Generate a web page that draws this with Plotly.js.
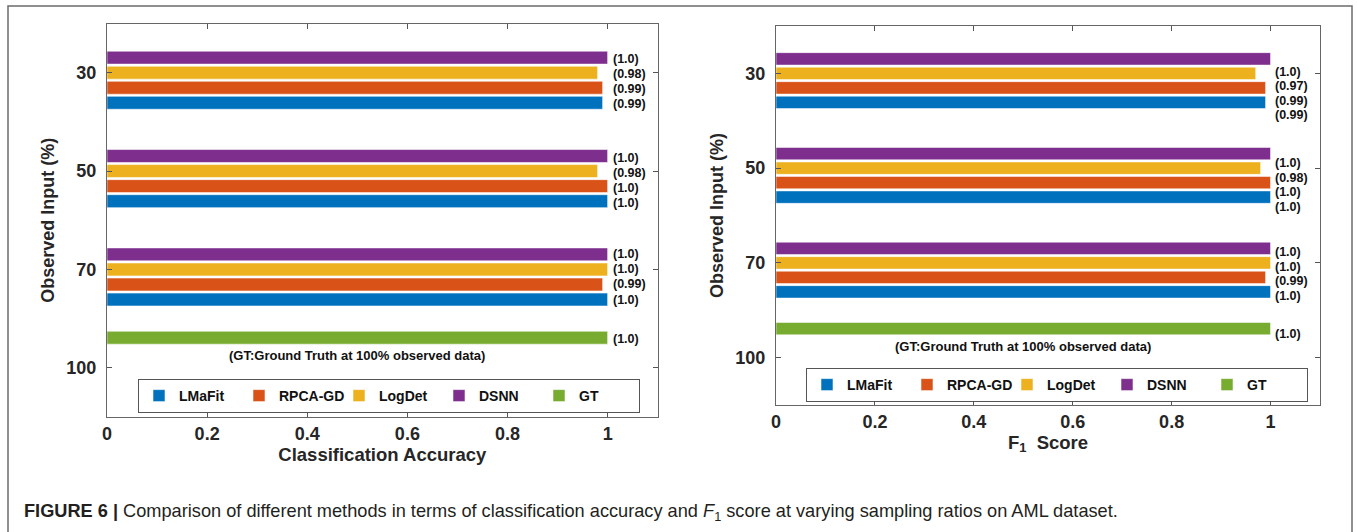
<!DOCTYPE html>
<html>
<head>
<meta charset="utf-8">
<script src="https://cdn.plot.ly/plotly-3.0.1.min.js"></script>
<style>
  html, body { margin: 0; padding: 0; background: #fff; }
  #chart { width: 1357px; height: 532px; }
</style>
</head>
<body>
<div id="chart"></div>
<script>
// ---------- data ----------
const categories = ['30', '50', '70', '100'];
const methods = ['LMaFit', 'RPCA-GD', 'LogDet', 'DSNN', 'GT'];

// Classification accuracy (left)
const accLMaFit = [0.99, 1.0, 1.0, 0];
const accRPCAGD = [0.99, 1.0, 0.99, 0];
const accLogDet = [0.98, 0.98, 1.0, 0];
const accDSNN   = [1.0, 1.0, 1.0, 0];
const accGT     = [0, 0, 0, 1.0];

// F1 score (right)
const f1LMaFit = [0.99, 1.0, 1.0, 0];
const f1RPCAGD = [0.99, 1.0, 0.99, 0];
const f1LogDet = [0.97, 0.98, 1.0, 0];
const f1DSNN   = [1.0, 1.0, 1.0, 0];
const f1GT     = [0, 0, 0, 1.0];

const xTicks = [0, 0.2, 0.4, 0.6, 0.8, 1];
const xTickText = ['0', '0.2', '0.4', '0.6', '0.8', '1'];

// ---------- styles ----------
const colors = {
  'LMaFit': '#0072BD', 'RPCA-GD': '#D95319', 'LogDet': '#EDB120',
  'DSNN': '#7E2F8E', 'GT': '#77AC30'
};
const FONT = 'Liberation Sans, Arial, Helvetica, sans-serif';
const INK = '#262626';
const BARGAP = 0.235;
// drawing order inside each group (top to bottom on reversed axis)
const drawOrder = ['GT', 'DSNN', 'LogDet', 'RPCA-GD', 'LMaFit'];

const leftSeries = { 'LMaFit': accLMaFit, 'RPCA-GD': accRPCAGD, 'LogDet': accLogDet, 'DSNN': accDSNN, 'GT': accGT };
const rightSeries = { 'LMaFit': f1LMaFit, 'RPCA-GD': f1RPCAGD, 'LogDet': f1LogDet, 'DSNN': f1DSNN, 'GT': f1GT };

const fmt = v => '(' + (v === 1 ? '1.0' : v.toFixed(2)) + ')';

function makeTraces(series, xa, ya, legendName) {
  return drawOrder.map(m => ({
    type: 'bar', orientation: 'h',
    name: m, x: series[m], y: categories,
    xaxis: xa, yaxis: ya,
    marker: { color: colors[m], line: { color: 'rgba(255,255,255,0.55)', width: 1 } },
    legend: legendName,
    legendrank: methods.indexOf(m) + 1,
    hoverinfo: 'x+name'
  }));
}

// value labels placed in a column just right of the full-score position
function makeLabels(series, xref, yref, nudges, xshift) {
  const all = [].concat(...methods.map(m => series[m]));
  const labelX = Math.max(...all);
  const n = drawOrder.length;
  const gw = 1 - BARGAP, slot = gw / n;
  const out = [];
  drawOrder.forEach((m, j) => {
    const off = -gw / 2 + slot * (j + 0.5);
    series[m].forEach((v, i) => {
      if (v > 0) {
        out.push({
          xref: xref, yref: yref, x: labelX, y: i + off,
          text: fmt(v), showarrow: false, xanchor: 'left', yanchor: 'middle',
          xshift: xshift, yshift: -nudges[i],
          font: { family: FONT, size: 12.5, color: '#111', weight: 700 }
        });
      }
    });
  });
  return out;
}

const data = [].concat(
  makeTraces(leftSeries, 'x', 'y', 'legend'),
  makeTraces(rightSeries, 'x2', 'y2', 'legend2')
);

const W = 1357, H = 532;
const px = v => v / W, py = v => 1 - v / H;

const xAxisBase = {
  range: [0, 1.1], tickvals: xTicks, ticktext: xTickText,
  ticks: 'inside', ticklen: 5, tickcolor: '#555', mirror: 'ticks',
  showline: true, linecolor: '#666', linewidth: 1, showgrid: false, zeroline: false,
  tickfont: { family: FONT, size: 18, color: INK, weight: 700 },
  fixedrange: true
};
const yAxisBase = {
  type: 'category', categoryorder: 'array', categoryarray: categories,
  range: [3.5, -0.5],
  ticks: 'inside', ticklen: 5, tickcolor: '#555', mirror: 'ticks',
  showline: true, linecolor: '#666', linewidth: 1, showgrid: false, zeroline: false,
  tickfont: { family: FONT, size: 18, color: INK, weight: 700 },
  ticklabelstandoff: 6,
  title: { text: 'Observed Input (%)', standoff: 7, font: { family: FONT, size: 18, color: INK, weight: 700 } },
  fixedrange: true
};

const gtNoteFont = { family: FONT, size: 13, color: '#111', weight: 700 };

const annotations = [].concat(
  makeLabels(leftSeries, 'x', 'y', [1, 1.5, 0, 1], 3),
  makeLabels(rightSeries, 'x2', 'y2', [13, 9.5, 4, 5], 2),
  [
    { xref: 'x', yref: 'y', x: 0.5, y: 3, yshift: 12, showarrow: false,
      text: '(GT:Ground Truth at 100% observed data)', font: gtNoteFont },
    { xref: 'x2', yref: 'y2', x: 0.5, y: 3, yshift: 11, showarrow: false,
      text: '(GT:Ground Truth at 100% observed data)', font: gtNoteFont },
    { xref: 'paper', yref: 'paper', x: px(22), y: py(512), xanchor: 'left', yanchor: 'middle',
      showarrow: false, align: 'left',
      text: '<b>FIGURE 6 |</b> Comparison of different methods in terms of classification accuracy and <i>F</i><sub>1</sub> score at varying sampling ratios on AML dataset.',
      font: { family: FONT, size: 18.2, color: '#231f20' } }
  ]
);

const legendBase = {
  orientation: 'h', xanchor: 'left', yanchor: 'top',
  bgcolor: '#fff', bordercolor: '#555', borderwidth: 1,
  font: { family: FONT, size: 14, color: '#111', weight: 700 },
  entrywidth: 55, entrywidthmode: 'pixels',
  traceorder: 'normal', itemclick: false, itemdoubleclick: false
};

const layout = {
  width: W, height: H,
  margin: { l: 0, r: 0, t: 0, b: 0 },
  paper_bgcolor: '#fff', plot_bgcolor: '#fff',
  barmode: 'group', bargap: BARGAP, bargroupgap: 0.14,
  xaxis: Object.assign({}, xAxisBase, {
    domain: [px(107), px(657.7)], anchor: 'y',
    title: { text: 'Classification Accuracy', standoff: 2, font: { family: FONT, size: 18.5, color: INK, weight: 700 } }
  }),
  yaxis: Object.assign({}, yAxisBase, { domain: [py(417), py(23.5)], anchor: 'x' }),
  xaxis2: Object.assign({}, xAxisBase, {
    domain: [px(776), px(1320)], anchor: 'y2',
    title: { text: 'F<sub>1</sub>  Score', standoff: 2, font: { family: FONT, size: 18.5, color: INK, weight: 700 } }
  }),
  yaxis2: Object.assign({}, yAxisBase, { domain: [py(405), py(26)], anchor: 'x2' }),
  legend: Object.assign({}, legendBase, { x: px(138), y: py(379) }),
  legend2: Object.assign({}, legendBase, { x: px(806), y: py(368) }),
  annotations: annotations,
  shapes: [
    { type: 'rect', xref: 'paper', yref: 'paper', x0: px(8), x1: px(1352), y0: -0.05, y1: py(6),
      line: { color: '#6b6b6b', width: 1.5 }, fillcolor: 'rgba(0,0,0,0)', layer: 'below' }
  ],
  showlegend: true
};

Plotly.newPlot('chart', data, layout, { displayModeBar: false, staticPlot: true });
</script>
</body>
</html>
